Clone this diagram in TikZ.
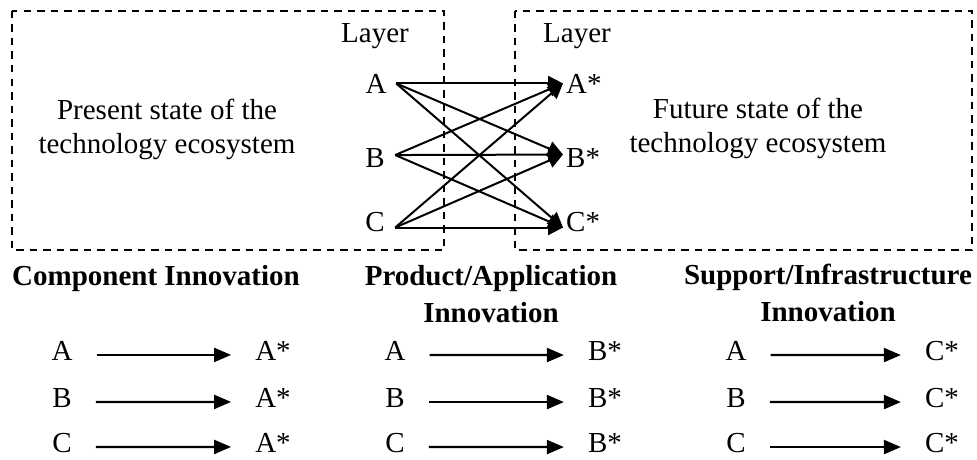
\documentclass[tikz,border=0pt]{standalone}
\usepackage{fontspec}
\setmainfont{Liberation Serif}
\usetikzlibrary{arrows.meta}

\begin{document}
\begin{tikzpicture}[x=1pt,y=-1pt,
  every node/.style={inner sep=0pt, font=\fontsize{29}{36}\selectfont},
  framebox/.style={line width=1.5pt, dash pattern=on 7.5pt off 6pt},
  flow/.style={line width=2pt, -{Triangle[length=15pt,width=15pt]}},
  rowflow/.style={line width=2.2pt, -{Triangle[length=17pt,width=14pt]}},
  layerlbl/.style={anchor=base},
  srcl/.style={anchor=base, minimum width=40pt},
  dstl/.style={anchor=base west, inner xsep=3pt},
  heading/.style={anchor=base, align=center, font=\fontsize{29}{37}\selectfont\bfseries},
  boxtext/.style={anchor=base, align=center, font=\fontsize{29}{34}\selectfont},
  pairl/.style={anchor=base, inner xsep=24pt}]
\useasboundingbox (0,0) rectangle (977,460);

% the two ecosystem frames
\draw[framebox] (12,11) rectangle (444,250);
\draw[framebox] (515,11) rectangle (972,250);

% multi-line nodes sit on the baseline of their last line
\node[boxtext] (present) at (167,153) {Present state of the\\technology ecosystem};
\node[boxtext] (future) at (758,152) {Future state of the\\technology ecosystem};

% layers on both sides
\node[layerlbl] (layerL) at (375,43) {Layer};
\node[layerlbl] (layerR) at (577,43) {Layer};

\node[srcl] (A) at (376,93) {A};
\node[srcl] (B) at (375,167) {B};
\node[srcl] (C) at (375,231) {C};

\node[dstl] (As) at (563,93) {A*};
\node[dstl] (Bs) at (563,167) {B*};
\node[dstl] (Cs) at (563,231) {C*};

% every layer can move to every layer
\foreach \s/\sh in {A/0,B/2.5,C/-6}
  \foreach \t/\th in {As/0,Bs/3,Cs/-6}
    \draw[flow] ([yshift=\sh pt]\s.east) -- ([yshift=\th pt]\t.west);

% the three kinds of innovation
\node[heading] (hcomp) at (156,285) {Component Innovation};
\node[heading] (hprod) at (491,322) {Product/Application\\Innovation};
\node[heading] (hsupp) at (828,321) {Support/Infrastructure\\Innovation};

\foreach \col/\xl/\xt/\tgt in {1/62/273/A*, 2/395/605/B*, 3/736/942/C*}
  \foreach \row/\lbl/\yb in {1/A/360, 2/B/407, 3/C/452} {
    \node[pairl] (s\col\row) at (\xl,\yb) {\lbl};
    \node[pairl] (t\col\row) at (\xt,\yb) {\tgt};
    \draw[rowflow] ([yshift=-4.5pt]s\col\row.east) -- ([yshift=-4.5pt]t\col\row.west);
  }
\end{tikzpicture}
\end{document}
